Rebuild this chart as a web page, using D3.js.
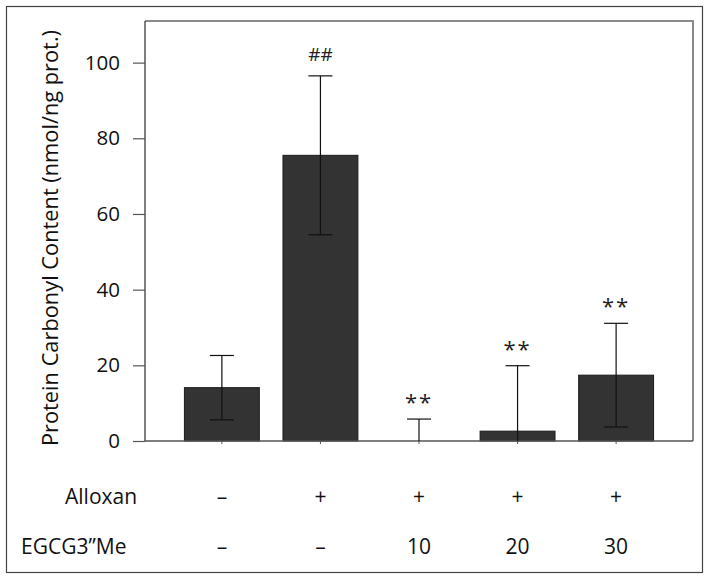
<!DOCTYPE html>
<html><head><meta charset="utf-8">
<script src="https://cdn.jsdelivr.net/npm/d3@7/dist/d3.min.js"></script>
<style>body{margin:0;background:#fff;} svg{display:block;font-family:"Open Sans",sans-serif;}</style>
</head><body><svg id="c" width="709" height="580"></svg>
<script>
const groups = ["G1","G2","G3","G4","G5"];
const means = [14.1, 75.5, 0, 2.6, 17.4];
const errs = [8.5, 21, 5.8, 17.3, 13.7];
const marks = ["", "##", "**", "**", "**"];
const alloxan = ["–", "+", "+", "+", "+"];
const egcg = ["–", "–", "10", "20", "30"];
const yTicks = [0, 20, 40, 60, 80, 100];
const yLabel = "Protein Carbonyl Content (nmol/ng prot.)";

const svg = d3.select("#c");
const L = 145, R = 693, T = 21, B = 441;
const x = d3.scaleBand().domain(groups).range([L, R]).paddingInner(0.24).paddingOuter(0.4);
const y = d3.scaleLinear().domain([0, 111]).range([B, T]);

// outer border
svg.append("rect").attr("x", 6.5).attr("y", 6.5).attr("width", 696).attr("height", 566)
  .attr("fill", "none").attr("stroke", "#444").attr("stroke-width", 1.2);

// plot frame top/right
svg.append("path").attr("d", `M${L},${T}H${R}V${B}`).attr("fill", "none")
  .attr("stroke", "#8a8a8a").attr("stroke-width", 2);

// bars
svg.append("g").selectAll("rect").data(groups).join("rect")
  .attr("x", d => x(d)).attr("width", x.bandwidth())
  .attr("y", (d, i) => y(means[i])).attr("height", (d, i) => Math.max(0, y(0) - y(means[i])))
  .attr("fill", "#333").attr("stroke", "#1a1a1a").attr("stroke-width", 1);

// x axis baseline
const xa = svg.append("g").attr("transform", `translate(0,${B})`)
  .call(d3.axisBottom(x).tickSize(3).tickFormat(""));
xa.select(".domain").attr("stroke", "#555").attr("stroke-width", 1.5).attr("d", `M${L},0H${R}`);
xa.selectAll(".tick line").attr("stroke", "#555");

// y axis
const ya = svg.append("g").attr("transform", `translate(${L},0)`)
  .call(d3.axisLeft(y).tickValues(yTicks).tickSize(12).tickPadding(13));
ya.select(".domain").attr("stroke", "#555").attr("stroke-width", 1.5).attr("d", `M0,${B}V${T}`);
ya.selectAll(".tick line").attr("stroke", "#555").attr("stroke-width", 1.2);
ya.selectAll(".tick text").attr("font-size", 20.5).attr("fill", "#111")
  .attr("font-family", "'Open Sans',sans-serif");

// error bars
const eb = svg.append("g").attr("stroke", "#111").attr("stroke-width", 1.2);
groups.forEach((g, i) => {
  const cx = x(g) + x.bandwidth() / 2;
  const lo = Math.max(0, means[i] - errs[i]), hi = means[i] + errs[i];
  eb.append("line").attr("x1", cx).attr("x2", cx).attr("y1", y(lo)).attr("y2", y(hi));
  eb.append("line").attr("x1", cx - 12).attr("x2", cx + 12).attr("y1", y(hi)).attr("y2", y(hi));
  if (means[i] - errs[i] > 0)
    eb.append("line").attr("x1", cx - 12).attr("x2", cx + 12).attr("y1", y(lo)).attr("y2", y(lo));
});

// significance marks
svg.append("g").selectAll("text").data(groups).join("text")
  .attr("x", d => x(d) + x.bandwidth() / 2)
  .attr("y", (d, i) => y(means[i] + errs[i]) - 22)
  .attr("text-anchor", "middle").attr("dominant-baseline", "central")
  .attr("font-size", (d, i) => marks[i] === "##" ? 19 : 22)
  .attr("letter-spacing", (d, i) => marks[i] === "##" ? 0 : 2)
  .attr("fill", "#222")
  .attr("dy", (d, i) => marks[i] === "##" ? 0 : 4)
  .text((d, i) => marks[i]);

// y label
svg.append("text").attr("transform", `translate(49,238) rotate(-90)`)
  .attr("text-anchor", "middle").attr("dominant-baseline", "central")
  .attr("font-size", 21.8).attr("fill", "#111").text(yLabel);

// treatment rows
function row(label, lx, vals, cy) {
  svg.append("text").attr("x", lx).attr("y", cy).attr("text-anchor", "start")
    .attr("dominant-baseline", "central").attr("font-size", 21).attr("fill", "#111").text(label);
  svg.append("g").selectAll("text").data(groups).join("text")
    .attr("x", d => x(d) + x.bandwidth() / 2).attr("y", cy)
    .attr("text-anchor", "middle").attr("dominant-baseline", "central")
    .attr("font-size", 21).attr("fill", "#111").text((d, i) => vals[i]);
}
row("Alloxan", 65, alloxan, 496);
row("EGCG3”Me", 21, egcg, 546);
</script></body></html>
